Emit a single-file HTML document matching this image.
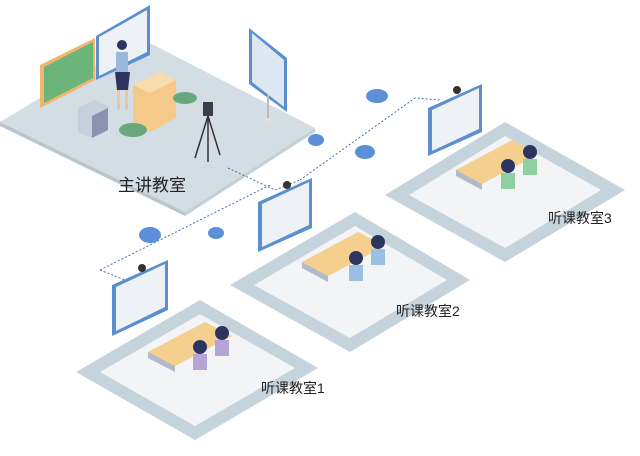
<!DOCTYPE html>
<html><head><meta charset="utf-8"><style>
body{margin:0;background:#fff;width:640px;height:456px;overflow:hidden}
svg{display:block}
text{font-family:"Liberation Sans","Noto Sans CJK SC",sans-serif;fill:#222}
</style></head><body>
<svg width="640" height="456" viewBox="0 0 640 456">
<!-- main floor -->
<polygon points="0,122 140,38 315,128 185,212" fill="#d3dde4"/>
<polygon points="0,122 185,212 185,216 0,126" fill="#b8c6d0"/>
<polygon points="185,212 315,128 315,132 185,216" fill="#c4d0d8"/>
<!-- boards -->
<polygon points="40,65 95,38 95,80 40,108" fill="#f3b46e"/>
<polygon points="44,67 93,42 93,78 44,103" fill="#6bb47a"/>
<polygon points="96,36 150,5 150,55 96,80" fill="#5a8fd0"/>
<polygon points="99,37 147,10 147,52 99,76" fill="#eef2f6"/>
<!-- teacher -->
<circle cx="122" cy="45" r="5" fill="#2c3560"/>
<rect x="116" y="52" width="12" height="20" fill="#9cb8d8"/>
<polygon points="115,72 130,72 128,90 117,90" fill="#2c3560"/>
<rect x="117" y="90" width="3" height="20" fill="#f1c4a0"/><rect x="125" y="90" width="3" height="20" fill="#f1c4a0"/>
<!-- podium -->
<polygon points="133,85 160,72 176,80 176,118 150,132 133,122" fill="#f4c98a"/>
<polygon points="133,85 160,72 176,80 150,93" fill="#f8dcae"/>
<!-- cabinet -->
<polygon points="78,108 95,100 108,106 108,130 92,138 78,132" fill="#c8cedc"/>
<polygon points="92,116 108,108 108,130 92,138" fill="#8a93ad"/>
<!-- plants -->
<ellipse cx="133" cy="130" rx="14" ry="7" fill="#68a87a"/><ellipse cx="185" cy="98" rx="12" ry="6" fill="#68a87a"/>
<!-- tripod -->
<rect x="203" y="102" width="10" height="14" fill="#3a3d4a"/>
<line x1="208" y1="116" x2="195" y2="158" stroke="#333" stroke-width="1.5"/><line x1="208" y1="116" x2="220" y2="155" stroke="#333" stroke-width="1.5"/><line x1="208" y1="116" x2="208" y2="162" stroke="#333" stroke-width="1.5"/>
<!-- standing screen -->
<polygon points="249,28 287,58 287,112 249,84" fill="#5a8fd0"/>
<polygon points="252,33 284,60 284,107 252,82" fill="#dde8f2"/>
<line x1="268" y1="95" x2="268" y2="120" stroke="#bbb" stroke-width="2"/><ellipse cx="268" cy="121" rx="6" ry="3" fill="#ddd"/>
<text x="118" y="191" font-size="17">主讲教室</text>
<!-- dashed lines -->
<g stroke="#4a6fa8" stroke-width="1" stroke-dasharray="2,2" fill="none">
<polyline points="228,168 275,190 300,180"/>
<polyline points="300,180 415,98 440,100"/>
<polyline points="100,270 130,282 160,268"/>
<polyline points="100,270 270,185"/>
</g>
<!-- clouds -->
<g fill="#5b8fd6">
<ellipse cx="377" cy="96" rx="11" ry="7"/><ellipse cx="365" cy="152" rx="10" ry="7"/>
<ellipse cx="316" cy="140" rx="8" ry="6"/><ellipse cx="150" cy="235" rx="11" ry="8"/><ellipse cx="216" cy="233" rx="8" ry="6"/>
</g>
<!-- room floors -->
<g>
<polygon points="76,372 200,300 318,368 195,440" fill="#c5d3dc"/>
<polygon points="100,372 200,314 295,368 195,426" fill="#f2f4f6"/>
<polygon points="230,285 355,212 470,280 350,352" fill="#c5d3dc"/>
<polygon points="254,285 355,226 447,280 350,338" fill="#f2f4f6"/>
<polygon points="385,195 505,122 625,190 505,262" fill="#c5d3dc"/>
<polygon points="409,195 505,136 601,190 505,248" fill="#f2f4f6"/>
</g>
<!-- room screens -->
<g>
<polygon points="112,285 168,260 168,310 112,336" fill="#5a8fd0"/><polygon points="116,287 165,264 165,307 116,331" fill="#eef2f6"/>
<polygon points="258,202 312,178 312,228 258,252" fill="#5a8fd0"/><polygon points="262,204 309,182 309,225 262,247" fill="#eef2f6"/>
<polygon points="428,108 482,84 482,132 428,156" fill="#5a8fd0"/><polygon points="432,110 479,88 479,129 432,151" fill="#eef2f6"/>
</g>
<g fill="#333"><circle cx="142" cy="268" r="4"/><circle cx="287" cy="185" r="4"/><circle cx="457" cy="90" r="4"/></g>
<!-- desks -->
<g>
<polygon points="148,352 205,322 232,336 175,366" fill="#f4cf8e"/><polygon points="148,352 175,366 175,372 148,358" fill="#b0bac8"/>
<circle cx="200" cy="347" r="7" fill="#2c3560"/><rect x="193" y="354" width="14" height="16" fill="#b7a4d6"/>
<circle cx="222" cy="333" r="7" fill="#2c3560"/><rect x="215" y="340" width="14" height="16" fill="#b7a4d6"/>
<polygon points="302,262 358,232 385,246 328,276" fill="#f4cf8e"/><polygon points="302,262 328,276 328,282 302,268" fill="#b0bac8"/>
<circle cx="356" cy="258" r="7" fill="#2c3560"/><rect x="349" y="265" width="14" height="16" fill="#9cc0e4"/>
<circle cx="378" cy="242" r="7" fill="#2c3560"/><rect x="371" y="249" width="14" height="16" fill="#9cc0e4"/>
<polygon points="456,170 512,140 539,154 482,184" fill="#f4cf8e"/><polygon points="456,170 482,184 482,190 456,176" fill="#b0bac8"/>
<circle cx="508" cy="166" r="7" fill="#2c3560"/><rect x="501" y="173" width="14" height="16" fill="#8fd0a0"/>
<circle cx="530" cy="152" r="7" fill="#2c3560"/><rect x="523" y="159" width="14" height="16" fill="#8fd0a0"/>
</g>
<text x="261" y="393" font-size="14">听课教室1</text>
<text x="396" y="316" font-size="14">听课教室2</text>
<text x="548" y="223" font-size="14">听课教室3</text>
</svg>
</body></html>
